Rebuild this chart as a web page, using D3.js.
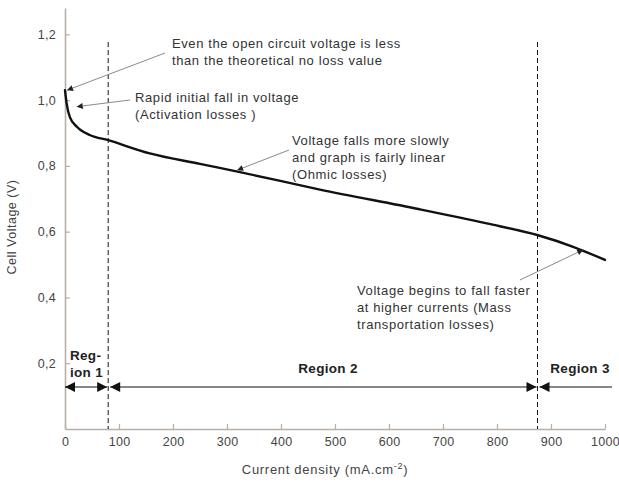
<!DOCTYPE html>
<html>
<head>
<meta charset="utf-8">
<script src="https://cdn.jsdelivr.net/npm/d3@7"></script>
<style>
  body { margin: 0; background: #fff; }
  svg { display: block; font-family: "Liberation Sans", Arial, sans-serif; }
</style>
</head>
<body>
<svg id="paper"></svg>
<script>
// curve
let current = [0, 3, 9, 22, 46, 80, 157, 250, 324, 472, 657, 781, 876, 941, 1000];
let voltage = [1.03, 0.99, 0.948, 0.919, 0.894, 0.878, 0.838, 0.806, 0.781, 0.728, 0.668, 0.625, 0.589, 0.554, 0.514];

let xTicks = [0, 100, 200, 300, 400, 500, 600, 700, 800, 900, 1000];
let yTicks = [0.2, 0.4, 0.6, 0.8, 1.0, 1.2];

// region boundaries (mA/cm2)
let boundaries = [80, 875];
let regionNames = [["Reg-", "ion 1"], ["Region 2"], ["Region 3"]];

let notes = [
    ["Even the open circuit voltage is less", "than the theoretical no loss value"],
    ["Rapid initial fall in voltage", "(Activation losses )"],
    ["Voltage falls more slowly", "and graph is fairly linear", "(Ohmic losses)"],
    ["Voltage begins to fall faster", "at higher currents (Mass", "transportation losses)"]
];
// where each note's arrow points, in data units
let noteTargetX = [0, 18, 315, 956];
let noteTargetY = [1.03, 0.98, 0.787, 0.545];

let W = 619, H = 491;

let svg = d3.select("#paper").attr("width", W).attr("height", H);

let x = d3.scaleLinear().domain([0, 1000]).range([65, 605]);
let y = d3.scaleLinear().domain([0, 1.28]).range([429, 8]);

let defs = svg.append("defs");
defs.append("marker")
    .attr("id", "bigHead")
    .attr("viewBox", "0 0 10 10")
    .attr("refX", 10).attr("refY", 5)
    .attr("markerWidth", 11).attr("markerHeight", 10)
    .attr("markerUnits", "userSpaceOnUse")
    .attr("orient", "auto-start-reverse")
    .append("path").attr("d", "M0,0L10,5L0,10Z").attr("fill", "#111");
defs.append("marker")
    .attr("id", "smallHead")
    .attr("viewBox", "0 0 10 10")
    .attr("refX", 10).attr("refY", 5)
    .attr("markerWidth", 9).attr("markerHeight", 6)
    .attr("markerUnits", "userSpaceOnUse")
    .attr("orient", "auto")
    .append("path").attr("d", "M0,0L10,5L0,10Z").attr("fill", "#222");

// axes
let fmt = d => d3.format(".1f")(d).replace(".", ",");

svg.append("g")
    .attr("transform", "translate(" + x(0) + ",0)")
    .call(d3.axisLeft(y).tickValues(yTicks).tickFormat(fmt).tickSize(-5).tickSizeOuter(0).tickPadding(9));

svg.append("g")
    .attr("transform", "translate(0," + y(0) + ")")
    .call(d3.axisBottom(x).tickValues(xTicks).tickFormat(d3.format("d")).tickSize(-5).tickSizeOuter(0).tickPadding(8));

svg.selectAll(".domain").attr("stroke", "#b8b0a8").attr("stroke-width", 1.6);
svg.selectAll(".tick line").attr("stroke", "#b8b0a8").attr("stroke-width", 1.2);
svg.selectAll(".tick text").attr("fill", "#444").style("font-size", "12.5px").style("letter-spacing", "0.3px");

svg.append("text")
    .attr("transform", "translate(16," + 227 + ") rotate(-90)")
    .attr("text-anchor", "middle")
    .attr("fill", "#444")
    .style("font-size", "12.5px")
    .style("letter-spacing", "0.5px")
    .text("Cell Voltage (V)");

let xl = svg.append("text")
    .attr("x", 325).attr("y", 474)
    .attr("text-anchor", "middle")
    .attr("fill", "#444")
    .style("font-size", "13px")
    .style("letter-spacing", "0.7px");
xl.append("tspan").text("Current density (mA.cm");
xl.append("tspan").attr("dy", -5).style("font-size", "9px").text("-2");
xl.append("tspan").attr("dy", 5).text(")");

// dashed region boundaries
svg.selectAll("line.bound")
    .data(boundaries)
    .enter()
    .append("line")
    .attr("class", "bound")
    .attr("x1", d => x(d)).attr("x2", d => x(d))
    .attr("y1", 42).attr("y2", y(0))
    .attr("stroke", "#111")
    .attr("stroke-width", 1)
    .attr("stroke-dasharray", "5,3");

// region arrows
let arrowY = 387;
let edges = [0].concat(boundaries).concat([1013]);
let segs = d3.range(3).map(i => ({a: edges[i], b: edges[i + 1], i: i}));
svg.selectAll("line.region")
    .data(segs)
    .enter()
    .append("line")
    .attr("class", "region")
    .attr("x1", d => x(d.a) + (d.i === 0 ? 0 : 2))
    .attr("x2", d => x(d.b) - (d.i === 2 ? 0 : 1))
    .attr("y1", arrowY).attr("y2", arrowY)
    .attr("stroke", "#111")
    .attr("stroke-width", 1.2)
    .attr("marker-start", "url(#bigHead)")
    .attr("marker-end", d => d.i === 2 ? null : "url(#bigHead)");

let regionPos = [[70, 360], [328, 373], [580, 373]];
regionNames.forEach(function (lines, i) {
    let t = svg.append("text")
        .attr("x", regionPos[i][0]).attr("y", regionPos[i][1])
        .attr("text-anchor", i === 0 ? "start" : "middle")
        .attr("fill", "#222")
        .style("font-size", "13.5px")
        .style("font-weight", "bold")
        .style("letter-spacing", "0.3px");
    lines.forEach(function (l, j) {
        t.append("tspan").attr("x", regionPos[i][0]).attr("dy", j === 0 ? 0 : 17).text(l);
    });
});

// the curve
let pts = current.map((c, i) => [c, voltage[i]]);
svg.append("path")
    .datum(pts)
    .attr("fill", "none")
    .attr("stroke", "#111")
    .attr("stroke-width", 2.4)
    .attr("stroke-linecap", "round")
    .attr("d", d3.line().x(d => x(d[0])).y(d => y(d[1])).curve(d3.curveMonotoneX));

// annotations
let notePos = [[172, 48], [135, 102], [292, 145], [357, 295]];
let noteFrom = [[165, 53], [130, 100], [289, 150], [520, 280]];
notes.forEach(function (lines, i) {
    let t = svg.append("text")
        .attr("x", notePos[i][0]).attr("y", notePos[i][1])
        .attr("fill", "#333")
        .style("font-size", "13px")
        .style("letter-spacing", "0.6px");
    lines.forEach(function (l, j) {
        t.append("tspan").attr("x", notePos[i][0]).attr("dy", j === 0 ? 0 : 17).text(l);
    });
    svg.append("line")
        .attr("x1", noteFrom[i][0]).attr("y1", noteFrom[i][1])
        .attr("x2", x(noteTargetX[i]) + 2).attr("y2", y(noteTargetY[i]))
        .attr("stroke", "#8a8a8a")
        .attr("stroke-width", 1)
        .attr("marker-end", "url(#smallHead)");
});
</script>
</body>
</html>
